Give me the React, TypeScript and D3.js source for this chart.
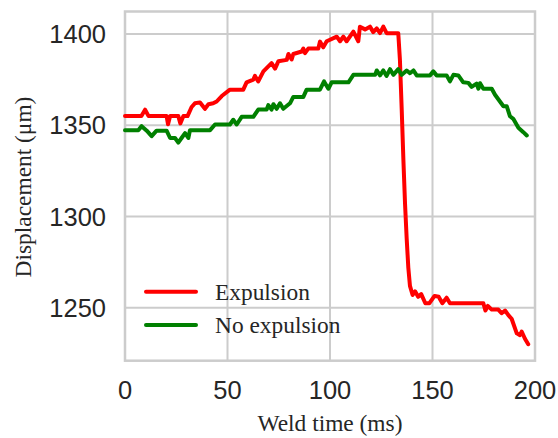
import React from "react";
import * as d3 from "d3";

const expulsionTime = [0, 8, 9.8, 11.5, 20.3, 21, 22, 26, 27, 28.5, 30.5, 32.5, 34.1, 36.6, 39, 40.7, 43, 44.7, 47.2, 51.2, 57.7, 59.3, 62.6, 63.4, 65, 67.5, 71.5, 73.2, 74.8, 78.9, 79.7, 81.3, 82.1, 86.2, 87, 87.8, 89.4, 94.3, 95.1, 96.7, 98.4, 103.3, 104.9, 106.5, 108.1, 111.4, 113.8, 114.6, 117.1, 119.5, 121.1, 122.8, 124.4, 126, 127.6, 133.3, 134.1, 135, 135.8, 136.6, 137.4, 138.2, 139, 140.3, 141.5, 143, 144.5, 146.5, 148.5, 151, 153, 154.8, 156.9, 158.5, 174.8, 175.8, 177, 178.9, 182.1, 183.7, 185.4, 187, 188.6, 191.1, 192.7, 193.5, 195.1, 196.7];
const expulsionDisp = [1355, 1355, 1358.5, 1355, 1355, 1350.5, 1355, 1355, 1351, 1355, 1355, 1360, 1362, 1362.5, 1359, 1361.5, 1362, 1363, 1366, 1369.5, 1369.5, 1373.5, 1375, 1377, 1374, 1379.5, 1384, 1381, 1385, 1385.8, 1389, 1386, 1389, 1390.4, 1392, 1389.5, 1392, 1392, 1395.8, 1392.7, 1396, 1398.5, 1396, 1398.5, 1396, 1401.3, 1396, 1404, 1402.5, 1404, 1401, 1403, 1400.5, 1404, 1400.4, 1400.4, 1386, 1358, 1331, 1307, 1288, 1272, 1262, 1257, 1259, 1256, 1257.5, 1252.5, 1252.5, 1256.5, 1256, 1252.5, 1255.5, 1252.5, 1252.5, 1248.5, 1251, 1249, 1249, 1247, 1248.5, 1246, 1244, 1236, 1235, 1237, 1233, 1230];

const noExpulsionTime = [0, 6.5, 8.1, 10.6, 13, 15.4, 20.3, 22, 24.4, 26, 27.6, 29.3, 30.9, 31.7, 41.5, 43.9, 51.2, 52.8, 54.5, 56.9, 62.6, 65, 69.1, 69.9, 71.5, 72.4, 74, 75.6, 77.2, 80.5, 82.1, 87, 88.6, 95.1, 97.1, 99.2, 100.8, 109, 111.4, 122, 122.8, 124.4, 126, 127.6, 129.3, 130.9, 133.3, 135, 137.4, 139, 140.7, 142.3, 148.8, 150.4, 152, 156.9, 158.5, 160.2, 162.6, 165, 167.5, 169.1, 171.5, 172.4, 173.2, 174.8, 178.9, 180.5, 182.9, 184.6, 186.2, 187.8, 189.4, 191.9, 194.3, 196];
const noExpulsionDisp = [1347.3, 1347.3, 1349.5, 1347, 1344, 1347, 1347, 1343, 1343, 1340.5, 1343, 1345.7, 1343, 1347.3, 1347.3, 1350.4, 1350.4, 1353, 1350.4, 1354.6, 1354.6, 1358.6, 1358.6, 1361, 1358.6, 1361.5, 1359, 1362, 1359, 1362, 1365.5, 1365.5, 1369.5, 1369.5, 1374, 1370, 1373.5, 1373.5, 1377.6, 1377.6, 1380, 1377.3, 1380, 1377, 1380.7, 1377.6, 1380.7, 1377.6, 1380, 1378.5, 1380, 1377.3, 1377.3, 1379.5, 1377.3, 1377.3, 1374, 1377.6, 1377.3, 1373.5, 1373.2, 1371, 1372.8, 1370, 1373, 1370, 1370, 1366.7, 1363, 1360.4, 1360.4, 1354.9, 1353.5, 1348.6, 1346.2, 1344.4];

const xTicks = [0, 50, 100, 150, 200];
const yTicks = [1250, 1300, 1350, 1400];
const seriesNames = ["Expulsion", "No expulsion"];
const seriesColors = ["#ff0000", "#008000"];

const W = 558, H = 438;
const L = 125, R = 535, T = 11.5, B = 360.7;

export default function App() {
  const x = d3.scaleLinear().domain([0, 200]).range([L, R]);
  const y = d3.scaleLinear().domain([1221, 1412.3]).range([B, T]);
  const line = d3.line<[number, number]>().x(d => x(d[0])).y(d => y(d[1]));
  const series = [
    expulsionTime.map((t, i) => [t, expulsionDisp[i]] as [number, number]),
    noExpulsionTime.map((t, i) => [t, noExpulsionDisp[i]] as [number, number]),
  ];
  const grid = "#cccccc";
  const sans = "'Liberation Sans', Arial, sans-serif";
  const serif = "'Liberation Serif', 'Times New Roman', serif";
  return (
    <svg width={W} height={H} style={{ position: "absolute", left: 0, top: 0, background: "#fff" }}>
      <rect x={0} y={0} width={W} height={H} fill="#fff" />
      {xTicks.map(t => (
        <line key={"gx" + t} x1={x(t)} x2={x(t)} y1={T} y2={B} stroke={grid} strokeWidth={2} />
      ))}
      {yTicks.map(t => (
        <line key={"gy" + t} x1={L} x2={R} y1={y(t)} y2={y(t)} stroke={grid} strokeWidth={2} />
      ))}
      <rect x={L} y={T} width={R - L} height={B - T} fill="none" stroke={grid} strokeWidth={2.5} />
      {series.map((s, i) => (
        <path key={i} d={line(s) || ""} fill="none" stroke={seriesColors[i]} strokeWidth={4} strokeLinejoin="round" strokeLinecap="round" />
      ))}
      {xTicks.map(t => (
        <text key={"tx" + t} x={x(t)} y={399} textAnchor="middle" fontFamily={sans} fontSize={25.5} fill="#262626">{t}</text>
      ))}
      {yTicks.map(t => (
        <text key={"ty" + t} x={106} y={y(t) + 9.2} textAnchor="end" fontFamily={sans} fontSize={25.5} fill="#262626">{t}</text>
      ))}
      <text x={330} y={431} textAnchor="middle" fontFamily={serif} fontSize={23.4} fill="#262626">Weld time (ms)</text>
      <text transform={`translate(31,187) rotate(-90)`} textAnchor="middle" fontFamily={serif} fontSize={23.4} fill="#262626">Displacement (μm)</text>
      {seriesNames.map((n, i) => (
        <g key={n}>
          <line x1={146} x2={196} y1={291.7 + i * 33.3} y2={291.7 + i * 33.3} stroke={seriesColors[i]} strokeWidth={4} strokeLinecap="round" />
          <text x={215} y={299.5 + i * 33.3} fontFamily={serif} fontSize={23.4} fill="#262626">{n}</text>
        </g>
      ))}
    </svg>
  );
}
